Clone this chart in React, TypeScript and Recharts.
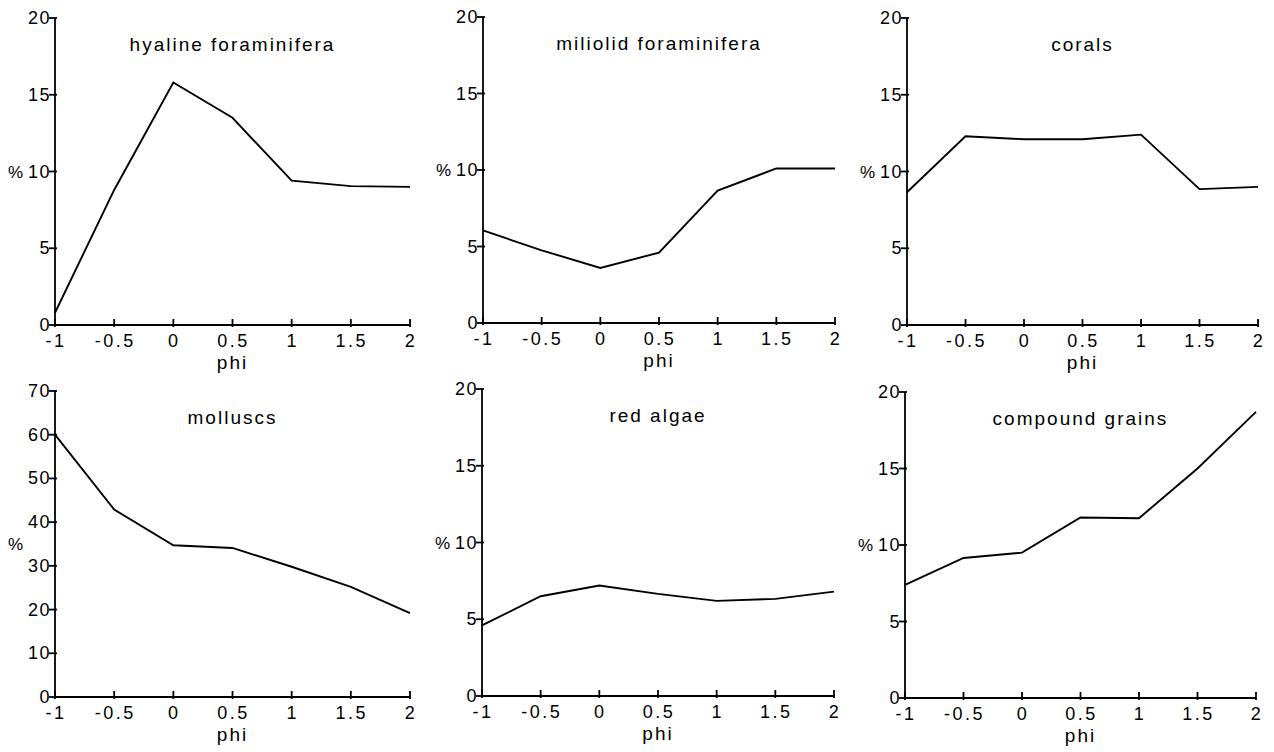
import { LineChart, Line, XAxis, YAxis, Label } from "recharts";

// phi classes on the x axis
const phiValues = [-1, -0.5, 0, 0.5, 1, 1.5, 2];
const phiTicks = [-1, -0.5, 0, 0.5, 1, 1.5, 2];

// percentages
const hyaline = [0.8, 8.8, 15.8, 13.5, 9.4, 9.05, 9.0];
const miliolid = [6.05, 4.75, 3.6, 4.6, 8.65, 10.1, 10.1];
const corals = [8.65, 12.3, 12.1, 12.1, 12.4, 8.85, 9.0];
const molluscs = [60, 42.9, 34.7, 34.1, 29.8, 25.2, 19.2];
const redAlgae = [4.6, 6.5, 7.2, 6.65, 6.2, 6.33, 6.8];
const compoundGrains = [7.4, 9.15, 9.5, 11.8, 11.75, 15.0, 18.7];

const pctTicks20 = [0, 5, 10, 15, 20];
const pctTicks70 = [0, 10, 20, 30, 40, 50, 60, 70];

const FONT = "'Liberation Sans', Arial, sans-serif";

type Panel = {
  title: string;
  values: number[];
  yTicks: number[];
  left: number;
  top: number;
  w: number;
  h: number;
};

const panels: Panel[] = [
  { title: "hyaline foraminifera", values: hyaline, yTicks: pctTicks20, left: 55, top: 18, w: 355, h: 307 },
  { title: "miliolid foraminifera", values: miliolid, yTicks: pctTicks20, left: 483, top: 17, w: 352, h: 306 },
  { title: "corals", values: corals, yTicks: pctTicks20, left: 907, top: 18, w: 351, h: 307 },
  { title: "molluscs", values: molluscs, yTicks: pctTicks70, left: 55, top: 391, w: 355, h: 306 },
  { title: "red algae", values: redAlgae, yTicks: pctTicks20, left: 482, top: 389, w: 352, h: 307 },
  { title: "compound grains", values: compoundGrains, yTicks: pctTicks20, left: 905, top: 392, w: 351, h: 306 },
];

const XTick = (props: any) => {
  const { x, y, payload } = props;
  return (
    <g>
      <line x1={x} y1={y - 6} x2={x} y2={y + 2} stroke="#000" strokeWidth={1.8} />
      <text
        x={x + 1}
        y={y + 22}
        textAnchor="middle"
        fontSize={18}
        fontFamily={FONT}
        letterSpacing={2.5}
        fill="#000"
      >
        {String(payload.value)}
      </text>
    </g>
  );
};

const YTick = (props: any) => {
  const { x, y, payload } = props;
  return (
    <g>
      <line x1={x - 6} y1={y} x2={x + 2} y2={y} stroke="#000" strokeWidth={1.8} />
      <text
        x={x - 4}
        y={y + 6}
        textAnchor="end"
        fontSize={18}
        fontFamily={FONT}
        letterSpacing={1.5}
        fill="#000"
      >
        {String(payload.value)}
      </text>
    </g>
  );
};

function PanelChart({ p }: { p: Panel }) {
  const data = phiValues.map((phi, i) => ({ phi, v: p.values[i] }));
  const yMax = p.yTicks[p.yTicks.length - 1];
  return (
    <div style={{ position: "absolute", left: p.left - 50, top: p.top - 10 }}>
      <LineChart
        width={50 + p.w + 20}
        height={10 + p.h + 50}
        data={data}
        margin={{ top: 10, right: 20, left: 0, bottom: 0 }}
      >
        <XAxis
          dataKey="phi"
          type="number"
          domain={[-1, 2]}
          ticks={phiTicks}
          height={50}
          tickSize={0}
          tickMargin={0}
          tickLine={false}
          tick={<XTick />}
          axisLine={{ stroke: "#000", strokeWidth: 1.8 }}
          interval={0}
        >
          <Label
            value="phi"
            position="insideBottom"
            offset={6}
            style={{ fontSize: 19, fontFamily: FONT, letterSpacing: 2, fill: "#000" }}
          />
        </XAxis>
        <YAxis
          type="number"
          domain={[0, yMax]}
          ticks={p.yTicks}
          width={50}
          tickSize={0}
          tickMargin={0}
          tickLine={false}
          tick={<YTick />}
          axisLine={{ stroke: "#000", strokeWidth: 1.8 }}
          interval={0}
        >
          <Label
            value="%"
            position="insideLeft"
            offset={3}
            style={{ fontSize: 17, fontFamily: FONT, fill: "#000" }}
          />
        </YAxis>
        <Line
          dataKey="v"
          type="linear"
          stroke="#000"
          strokeWidth={1.9}
          dot={false}
          activeDot={false}
          isAnimationActive={false}
        />
      </LineChart>
      <div
        style={{
          position: "absolute",
          left: 50,
          top: 10 + 17,
          width: p.w,
          textAlign: "center",
          fontFamily: FONT,
          fontSize: 19,
          lineHeight: "20px",
          letterSpacing: 2,
          color: "#000",
        }}
      >
        {p.title}
      </div>
    </div>
  );
}

export default function App() {
  return (
    <div
      style={{
        position: "absolute",
        left: 0,
        top: 0,
        width: 1274,
        height: 752,
        background: "#fff",
        overflow: "hidden",
      }}
    >
      {panels.map((p) => (
        <PanelChart key={p.title} p={p} />
      ))}
    </div>
  );
}
